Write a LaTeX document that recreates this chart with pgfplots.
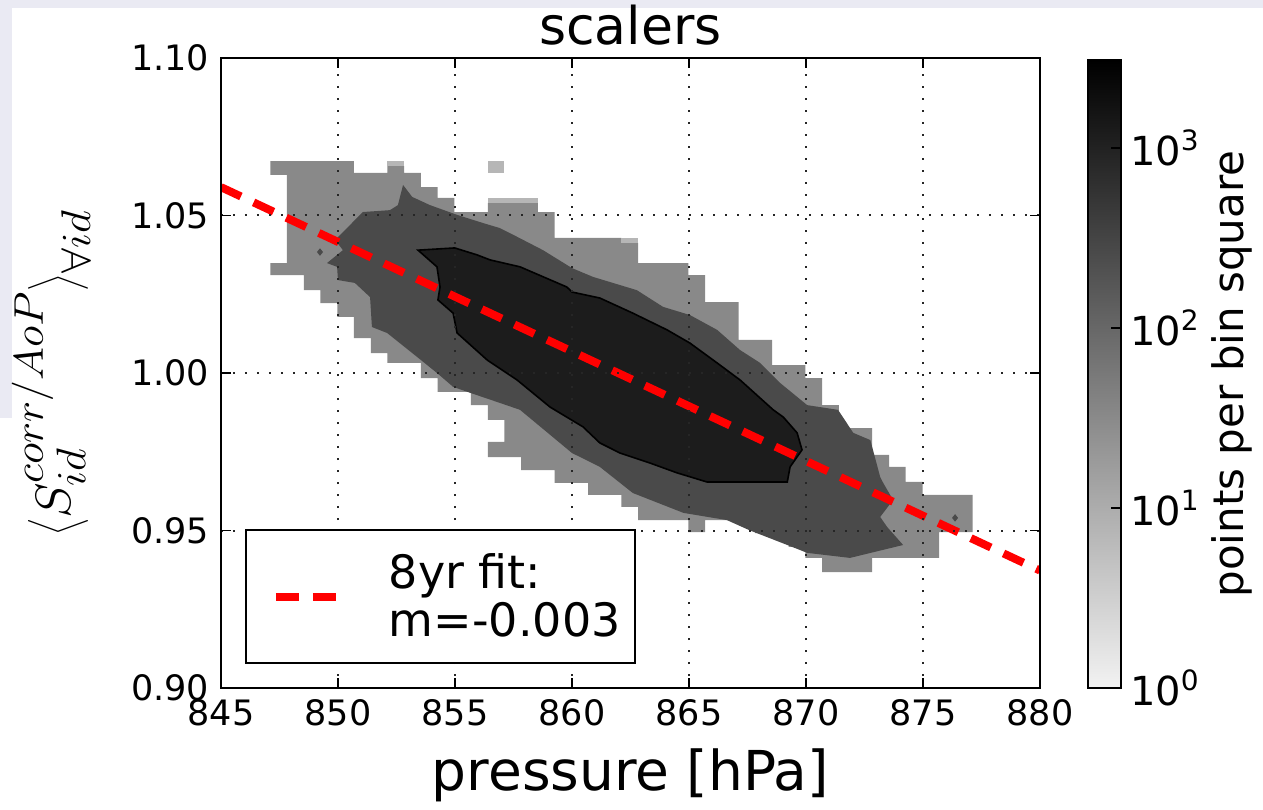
\documentclass[border=0pt]{standalone}
\usepackage{fontspec}
\setmainfont{DejaVu Sans}
\usepackage{graphicx}
\usepackage{pgfplots}
\pgfplotsset{compat=1.18}
\definecolor{lev0}{RGB}{182,182,182}
\definecolor{lev1}{RGB}{137,137,137}
\definecolor{lev2}{RGB}{74,74,74}
\definecolor{lev3}{RGB}{28,28,28}
\definecolor{fitred}{RGB}{255,0,0}
\definecolor{cbbottom}{RGB}{242,242,242}
\definecolor{shot}{RGB}{234,234,243}
\begin{document}
\begin{tikzpicture}
\path[use as bounding box] (-110.5pt,-60.5pt) rectangle (521pt,344pt);
\fill[shot] (-110.5pt,344pt) rectangle (521pt,340pt);
\fill[shot] (-110.5pt,344pt) rectangle (-104.5pt,135pt);
\begin{axis}[
  name=ax, at={(0pt,0pt)}, anchor=south west,
  scale only axis, width=409.5pt, height=315pt,
  xmin=845, xmax=880, ymin=0.9, ymax=1.1,
  xtick={845,850,...,880}, ytick={0.90,0.95,1.00,1.05,1.10},
  /pgf/number format/assume math mode=true,
  y tick label style={/pgf/number format/fixed, /pgf/number format/fixed zerofill, /pgf/number format/precision=2, xshift=-2.5pt},
  x tick label style={yshift=-2pt},
  tick label style={font=\fontsize{17.5}{20}\selectfont},
  tick align=inside, major tick length=5pt, tick style={black, line width=0.8pt},
  axis line style={line width=1pt},
  grid=major, major grid style={black!85, line width=1pt, dash pattern=on 1pt off 5pt},
  axis on top,
  title={scalers}, title style={font=\fontsize{26}{30}\selectfont, at={(axis description cs:0.5,1)}, anchor=base, yshift=0.5pt},
  xlabel={pressure [hPa]}, xlabel style={font=\fontsize{27.5}{32}\selectfont, at={(axis description cs:0.5,0)}, anchor=base, yshift=-51pt},
  ylabel={\scalebox{1.08}[1]{$\left\langle S_{id}^{corr/AoP}\right\rangle_{\forall id}$}},
  ylabel style={font=\fontsize{28}{32}\selectfont, at={(axis description cs:0,0.5)}, anchor=center, yshift=85pt},
  legend style={at={(axis description cs:0.0293,0.038)}, anchor=south west, draw=black, line width=1pt, fill=white,
    font=\fontsize{23}{24}\selectfont, cells={align=left}, inner xsep=0pt, inner ysep=9.75pt,
    nodes={inner xsep=0pt, inner ysep=2pt}},
  legend image code/.code={\path[draw=none, fill=none] (-15pt,0pt) -- (56.5pt,0pt); \draw[#1, line width=4pt, dash pattern=on 11.5pt off 7pt] (0pt,0pt) -- (30pt,0pt);},
]
% outer level
\addplot[fill=lev1, draw=none, forget plot] coordinates {
(847.11,1.0673) (850.68,1.0673) (850.68,1.0635) (852.11,1.0635) (852.11,1.0657) (852.83,1.0657) (852.83,1.0635)
(853.54,1.0635) (853.54,1.0590) (854.26,1.0590) (854.26,1.0556) (854.97,1.0556) (854.97,1.0511) (856.40,1.0511)
(856.40,1.0540) (858.54,1.0540) (858.54,1.0511) (859.26,1.0511) (859.26,1.0429) (862.11,1.0429) (862.11,1.0413)
(862.83,1.0413) (862.83,1.0349) (864.97,1.0349) (864.97,1.0311) (865.69,1.0311) (865.69,1.0225) (867.12,1.0225)
(867.12,1.0105) (868.55,1.0105) (868.55,1.0025) (869.97,1.0025) (869.97,0.9984) (870.69,0.9984) (870.69,0.9898)
(871.40,0.9898) (871.40,0.9825) (872.83,0.9825) (872.83,0.9740) (873.55,0.9740) (873.55,0.9702) (874.26,0.9702)
(874.26,0.9654) (874.98,0.9654) (874.98,0.9613) (877.12,0.9613) (877.12,0.9495) (875.69,0.9495) (875.69,0.9413)
(872.83,0.9413) (872.83,0.9368) (870.69,0.9368) (870.69,0.9413) (869.97,0.9413) (869.97,0.9448) (869.26,0.9448)
(869.26,0.9492) (867.83,0.9492) (867.83,0.9533) (865.69,0.9533) (865.69,0.9495) (864.97,0.9495) (864.97,0.9533)
(862.83,0.9533) (862.83,0.9575) (862.11,0.9575) (862.11,0.9613) (860.69,0.9613) (860.69,0.9651) (859.26,0.9651)
(859.26,0.9692) (857.83,0.9692) (857.83,0.9733) (856.40,0.9733) (856.40,0.9781) (857.11,0.9781) (857.11,0.9851)
(856.40,0.9851) (856.40,0.9898) (855.68,0.9898) (855.68,0.9940) (854.26,0.9940) (854.26,0.9984) (853.54,0.9984)
(853.54,1.0032) (852.11,1.0032) (852.11,1.0063) (851.40,1.0063) (851.40,1.0111) (850.68,1.0111) (850.68,1.0178)
(849.97,1.0178) (849.97,1.0222) (849.25,1.0222) (849.25,1.0263) (848.54,1.0263) (848.54,1.0311) (847.11,1.0311)
(847.11,1.0349) (847.82,1.0349) (847.82,1.0629) (847.11,1.0629)} -- cycle;
% faint patches
\addplot[fill=lev0, draw=none, forget plot] coordinates {(852.11,1.0657) (852.83,1.0657) (852.83,1.0673) (852.11,1.0673)} -- cycle;
\addplot[fill=lev0, draw=none, forget plot] coordinates {(856.40,1.0635) (857.11,1.0635) (857.11,1.0673) (856.40,1.0673)} -- cycle;
\addplot[fill=lev0, draw=none, forget plot] coordinates {(856.40,1.0540) (858.54,1.0540) (858.54,1.0556) (856.40,1.0556)} -- cycle;
\addplot[fill=lev0, draw=none, forget plot] coordinates {(862.11,1.0413) (862.83,1.0413) (862.83,1.0429) (862.11,1.0429)} -- cycle;
% middle level
\addplot[fill=lev2, draw=none, forget plot] coordinates {
(849.88,1.0422) (851.06,1.0511) (852.22,1.0517) (852.56,1.0533) (852.78,1.0597) (853.17,1.0559) (853.93,1.0533)
(855.09,1.0502) (856.20,1.0476) (856.92,1.0460) (857.35,1.0444) (858.76,1.0390) (860.00,1.0333) (860.90,1.0305)
(862.77,1.0263) (863.89,1.0210) (865.04,1.0184) (866.20,1.0137) (867.18,1.0073) (868.04,1.0032) (868.90,0.9968)
(870.05,0.9898) (871.37,0.9883) (872.02,0.9810) (872.75,0.9787) (873.17,0.9670) (873.30,0.9651) (873.72,0.9597)
(873.17,0.9543) (873.47,0.9511) (874.15,0.9454) (871.88,0.9413) (870.05,0.9429) (869.20,0.9454) (867.61,0.9500)
(866.62,0.9533) (864.76,0.9556) (862.60,0.9619) (861.19,0.9702) (860.00,0.9746) (857.78,0.9883) (856.92,0.9905)
(855.65,0.9937) (854.92,0.9956) (854.23,1.0000) (853.38,1.0051) (852.10,1.0127) (851.45,1.0146) (851.37,1.0241)
(850.72,1.0286) (850.00,1.0295) (849.96,1.0337) (849.53,1.0349) (850.21,1.0390)} -- cycle;
% inner level
\addplot[fill=lev3, draw=black, line width=0.8pt, forget plot] coordinates {
(853.42,1.0390) (854.99,1.0397) (855.94,1.0375) (856.50,1.0359) (857.78,1.0337) (859.78,1.0273) (860.00,1.0257)
(861.19,1.0238) (862.60,1.0190) (864.06,1.0137) (865.04,1.0095) (866.20,1.0032) (867.18,0.9978) (868.60,0.9883)
(869.03,0.9860) (869.62,0.9810) (869.83,0.9756) (869.32,0.9702) (869.20,0.9654) (867.31,0.9654) (865.77,0.9654)
(864.49,0.9683) (863.34,0.9714) (862.05,0.9746) (861.19,0.9778) (860.47,0.9829) (859.06,0.9892) (857.65,0.9978)
(856.38,1.0041) (855.09,1.0127) (854.92,1.0190) (854.27,1.0232) (854.36,1.0273) (854.23,1.0337)} -- cycle;
% isolated specks
\addplot[fill=lev2, draw=none, forget plot] coordinates {(876.37,0.9552) (876.50,0.9540) (876.37,0.9528) (876.24,0.9540)} -- cycle;
\addplot[fill=lev2, draw=none, forget plot] coordinates {(849.23,1.0396) (849.36,1.0384) (849.23,1.0372) (849.10,1.0384)} -- cycle;
% fit
\addplot[fitred, line width=4pt, dash pattern=on 11pt off 7pt] coordinates {(845,1.0590) (880,0.9373)};
\addlegendentry{8yr fit:\\m=-0.003\hspace*{7pt}}
\end{axis}
\begin{axis}[
  name=cb, at={(ax.south east)}, anchor=south west, xshift=24pt,
  scale only axis, width=16.5pt, height=314pt,
  xmin=0, xmax=1, ymode=log, ymin=1, ymax=3090,
  xtick=\empty, ytick={1,10,100,1000},
  yticklabels={10\textsuperscript{0},10\textsuperscript{1},10\textsuperscript{2},10\textsuperscript{3}},
  ytick pos=right, yticklabel pos=right,
  yticklabel style={font=\fontsize{20}{24}\selectfont, xshift=1pt},
  tick align=inside, major tick length=5pt, minor tick length=0pt, tick style={black, line width=0.8pt},
  axis line style={line width=1pt}, axis on top,
  ylabel={points per bin square},
  ylabel style={font=\fontsize{21}{25}\selectfont, at={(axis description cs:1,0.5)}, anchor=center, yshift=-55.5pt},
]
\addplot[draw=none, bottom color=cbbottom, top color=black, forget plot] coordinates {(0,1) (1,1) (1,3090) (0,3090)} -- cycle;
\end{axis}
\end{tikzpicture}
\end{document}
